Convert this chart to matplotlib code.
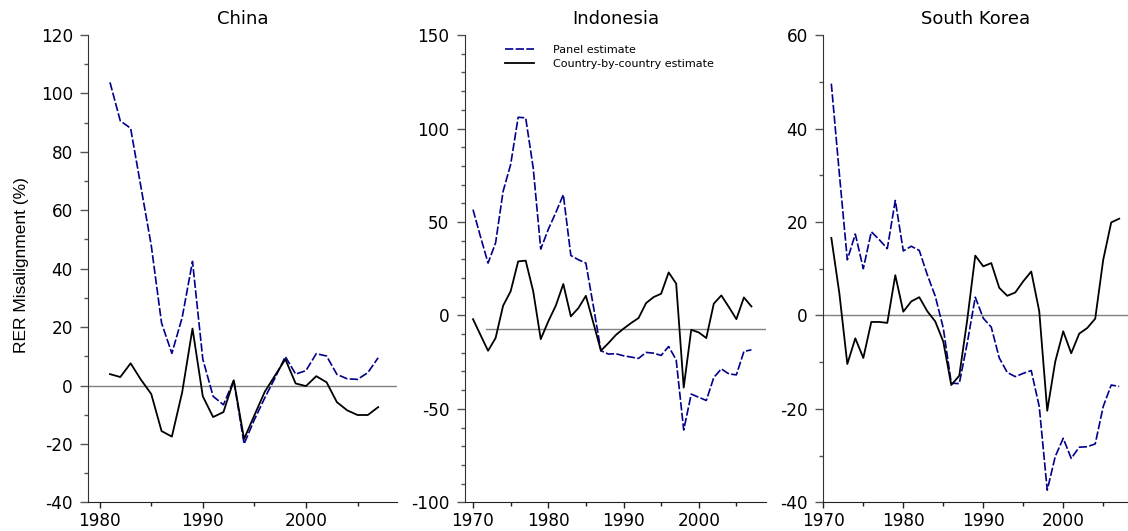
import numpy as np
import matplotlib
matplotlib.use("Agg")
from matplotlib import pyplot as plt
from matplotlib.ticker import MultipleLocator

plt.rcParams['font.family'] = ['DejaVu Sans']
plt.rcParams['axes.unicode_minus'] = False

# China, 1981-2007
china_years = list(range(1981, 2008))
china_panel = [103.8, 90.6, 88.1, 68.0, 48.0, 21.4, 11.0, 23.3, 42.5, 9.0,
               -3.7, -6.6, 1.8, -20.0, -11.7, -4.3, 2.6, 9.9, 3.9, 5.1,
               10.9, 10.1, 3.8, 2.3, 2.1, 4.4, 9.5]
china_country = [3.9, 2.9, 7.6, 2.0, -2.9, -15.6, -17.5, -2.3, 19.5, -3.7,
                 -10.8, -9.1, 1.8, -18.3, -10.2, -2.2, 3.4, 9.0, 0.7, -0.2,
                 3.2, 1.1, -5.7, -8.5, -10.1, -10.1, -7.4]

# Indonesia, 1970-2007
indo_years = list(range(1970, 2008))
indo_panel = [56.6, 42.0, 28.0, 38.8, 66.4, 80.7, 106.0, 105.7, 78.9, 35.5,
              46.0, 55.0, 64.6, 32.1, 29.8, 28.0, 4.8, -18.9, -20.7, -20.5,
              -21.6, -22.3, -23.0, -19.8, -20.2, -21.4, -16.6, -23.8, -61.3, -42.1,
              -43.8, -45.5, -33.2, -28.6, -31.3, -31.8, -19.3, -18.4]
indo_country = [-2.0, -10.5, -18.9, -12.1, 5.2, 12.9, 28.9, 29.3, 12.9, -12.7,
                -3.2, 5.2, 16.8, -0.5, 3.9, 10.5, -4.1, -18.9, -14.8, -10.4,
                -7.1, -4.1, -1.4, 6.6, 9.8, 11.6, 23.0, 17.0, -38.6, -7.7,
                -9.1, -12.1, 6.3, 10.7, 4.5, -2.0, 9.6, 4.8]
indo_ref_level = -7.5
indo_ref_start = 1971.7

# South Korea, 1971-2007
korea_years = list(range(1971, 2008))
korea_panel = [49.6, 30.4, 11.9, 17.4, 10.0, 17.9, 16.2, 14.3, 24.6, 13.8,
               14.8, 13.9, 8.7, 4.1, -2.7, -14.5, -14.6, -5.9, 3.9, -0.6,
               -2.5, -9.1, -12.2, -13.1, -12.4, -11.8, -19.5, -37.4, -30.2, -26.3,
               -30.6, -28.2, -28.1, -27.5, -19.5, -14.9, -15.2]
korea_country = [16.6, 4.8, -10.4, -4.9, -9.1, -1.4, -1.4, -1.6, 8.6, 0.8,
                 3.0, 3.9, 0.9, -1.3, -5.6, -14.9, -12.9, -0.9, 12.8, 10.5,
                 11.2, 5.9, 4.2, 4.9, 7.3, 9.4, 0.9, -20.4, -9.9, -3.4,
                 -8.1, -3.9, -2.7, -0.7, 11.9, 19.9, 20.7]

PANEL_COLOR = '#00008b'
DASHES = (5, 1.4)

fig = plt.figure(figsize=(11.28, 5.31), dpi=100)


def make_axes(rect, xlim, ylim, ymajor, ylabel_step, title):
    ax = fig.add_axes(rect)
    ax.set_xlim(*xlim)
    ax.set_ylim(*ylim)
    ax.spines['top'].set_visible(False)
    ax.spines['right'].set_visible(False)
    ax.spines['left'].set_color('#333333')
    ax.spines['bottom'].set_color('#222222')
    ax.xaxis.set_major_locator(MultipleLocator(10))
    ax.xaxis.set_minor_locator(MultipleLocator(5))
    ax.yaxis.set_major_locator(MultipleLocator(ylabel_step))
    ax.yaxis.set_minor_locator(MultipleLocator(ymajor))
    ax.tick_params(axis='y', which='major', length=6, width=1, color='#555555',
                   labelsize=12.2, pad=5)
    ax.tick_params(axis='y', which='minor', length=3, width=1, color='#555555')
    ax.tick_params(axis='x', which='major', length=4, width=1, color='#222222',
                   labelsize=12.2, pad=3)
    ax.tick_params(axis='x', which='minor', length=3, width=1, color='#222222')
    ax.set_title(title, fontsize=13, pad=8)
    return ax


ax1 = make_axes([0.0783, 0.054, 0.2734, 0.880], (1978.9, 2008.8), (-40, 120), 10, 20, 'China')
ax1.axhline(0, color='#808080', lw=1)
ax1.plot(china_years, china_panel, color=PANEL_COLOR, lw=1.2, dashes=DASHES)
ax1.plot(china_years, china_country, color='black', lw=1.3)

ax2 = make_axes([0.412, 0.054, 0.2675, 0.880], (1968.9, 2009), (-100, 150), 10, 50, 'Indonesia')
ax2.plot([indo_ref_start, 2009], [indo_ref_level, indo_ref_level], color='#808080', lw=1)
ax2.plot(indo_years, indo_panel, color=PANEL_COLOR, lw=1.2, dashes=DASHES,
         label='Panel estimate')
ax2.plot(indo_years, indo_country, color='black', lw=1.3,
         label='Country-by-country estimate')
ax2.legend(loc='upper left', bbox_to_anchor=(0.1, 1.0), frameon=False,
           fontsize=8, handlelength=2.6, handletextpad=1.7, labelspacing=0.35)

ax3 = make_axes([0.7299, 0.054, 0.2701, 0.880], (1970, 2008.1), (-40, 60), 10, 20, 'South Korea')
ax3.axhline(0, color='#808080', lw=1)
ax3.plot(korea_years, korea_panel, color=PANEL_COLOR, lw=1.2, dashes=DASHES)
ax3.plot(korea_years, korea_country, color='black', lw=1.3)

fig.text(0.019, 0.5, 'RER Misalignment (%)', rotation=90, va='center', ha='center',
         fontsize=12.5, family=['Liberation Sans', 'DejaVu Sans'])

fig.savefig('out.png', dpi=100)
